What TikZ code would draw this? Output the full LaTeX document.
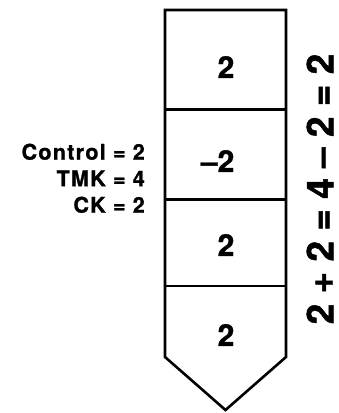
\documentclass[tikz,border=0pt]{standalone}
\usepackage{fontspec}
\setmainfont{TeX Gyre Heros}[BoldFeatures={FakeBold=1.2}]
\newfontfamily\lblfont{TeX Gyre Heros}[LetterSpace=6, BoldFeatures={FakeBold=1.2}]
\usetikzlibrary{positioning}
\tikzset{
  frame/.style={draw, line width=2.6pt, line join=miter},
  divider/.style={draw, line width=2.3pt},
  num/.style={font=\bfseries\fontsize{30}{30}\selectfont, inner sep=0pt},
  lbl/.style={font=\lblfont\bfseries\fontsize{21.5}{26.5}\selectfont, align=right, inner sep=0pt},
  sumlbl/.style={font=\bfseries\fontsize{37}{37}\selectfont, rotate=90, inner sep=0pt},
}
\begin{document}
\begin{tikzpicture}[x=1pt, y=-1pt]
  \useasboundingbox (0,0) rectangle (338,413);

  % Column outline with pointed end
  \coordinate (tl)  at (165,10);
  \coordinate (tr)  at (286,10);
  \coordinate (br)  at (286,357);
  \coordinate (bl)  at (165,357);
  \coordinate (tip) at (225.5,410);
  \draw[frame] (tl) -- (tr) -- (br) -- (tip) -- (bl) -- cycle;

  % Cell dividers
  \foreach \y/\name in {109.5/da, 199.5/db, 286/dc} {
    \coordinate (\name w) at (165,\y);
    \coordinate (\name e) at (286,\y);
    \draw[divider] (\name w) -- (\name e);
  }

  % Cell values
  \node[num] (v1) at (226,67)  {2};
  \node[num] (v2) at (226,161) {\llap{–}2};
  \node[num] (v3) at (226,245) {2};
  \node[num] (v4) at (226,335) {2};

  % Left labels
  \node[lbl, anchor=north east] (rates) at (145,143.5) {Control = 2\\TMK = 4\\CK = 2};

  % Vertical sum
  \node[sumlbl] (sum) at (320,189) {2 + 2 = 4 – 2 = 2};

\end{tikzpicture}
\end{document}
